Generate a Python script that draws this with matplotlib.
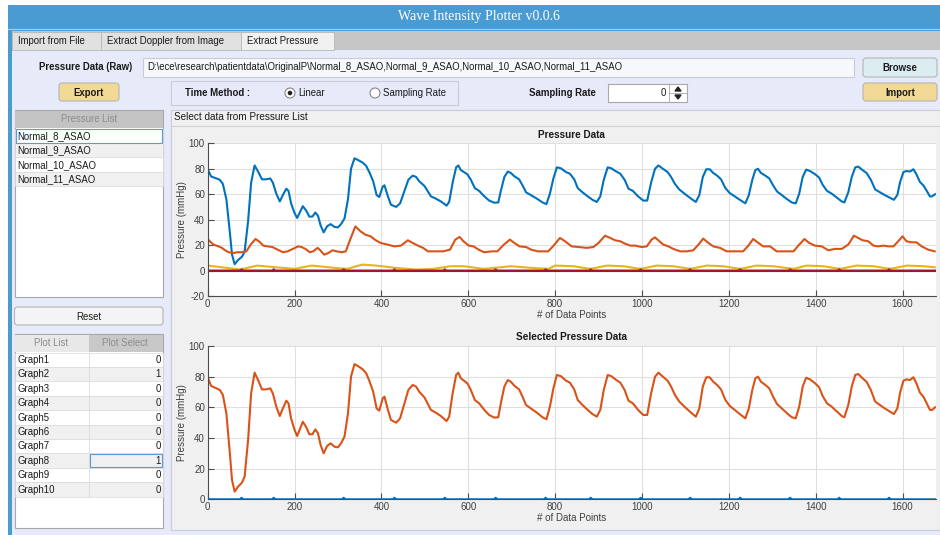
import matplotlib
matplotlib.use('Agg')
import matplotlib.pyplot as plt
from matplotlib.patches import Rectangle, FancyBboxPatch, Circle, Polygon

plt.rcParams['font.family'] = ['Liberation Sans', 'DejaVu Sans']
plt.rcParams['axes.unicode_minus'] = False

# ---- data ----
pressure_files = ['Normal_8_ASAO', 'Normal_9_ASAO', 'Normal_10_ASAO', 'Normal_11_ASAO']
raw_path = 'D:\\ece\\research\\patientdata\\OriginalP\\' + ','.join(pressure_files)
graph_names = ['Graph1', 'Graph2', 'Graph3', 'Graph4', 'Graph5',
               'Graph6', 'Graph7', 'Graph8', 'Graph9', 'Graph10']
plot_select = [0, 1, 0, 0, 0, 0, 0, 1, 0, 0]
x_ticks = [0, 200, 400, 600, 800, 1000, 1200, 1400, 1600]
n_points = 1677

# Normal_8 (big aortic curve)
p8_x = [0, 8, 20, 28, 35, 43, 51, 56, 62, 70, 79, 85, 93, 100, 108, 116, 125, 135, 144, 150,
        158, 166, 173, 181, 186, 192, 200, 206, 214, 219, 227, 234, 241, 248, 254, 260, 267,
        275, 283, 292, 300, 307, 315, 323, 330, 338, 346, 357, 365, 373, 381, 389, 395, 403,
        407, 415, 422, 434, 443, 453, 462, 472, 480, 487, 499, 514, 526, 537, 550, 556, 564,
        572, 577, 583, 591, 598, 606, 615, 625, 637, 648, 660, 669, 675, 683, 691, 698, 706,
        717, 725, 733, 744, 758, 771, 780, 788, 796, 804, 813, 825, 834, 844, 852, 863, 875,
        886, 896, 904, 912, 921, 929, 939, 950, 960, 969, 979, 991, 1003, 1012, 1021, 1030,
        1038, 1048, 1059, 1067, 1076, 1086, 1098, 1113, 1124, 1132, 1140, 1148, 1156, 1164,
        1173, 1182, 1192, 1202, 1211, 1223, 1233, 1238, 1246, 1254, 1261, 1267, 1274, 1284,
        1293, 1302, 1311, 1322, 1334, 1345, 1354, 1362, 1370, 1378, 1387, 1399, 1408, 1416,
        1426, 1437, 1449, 1460, 1466, 1475, 1483, 1491, 1498, 1508, 1517, 1527, 1537, 1548,
        1559, 1571, 1580, 1588, 1594, 1602, 1609, 1617, 1625, 1632, 1640, 1648, 1655, 1663,
        1668, 1675]
p8_y = [79.6, 73.9, 72.4, 71.3, 68, 56, 30, 12.6, 5, 8.3, 10.9, 14.8, 38.7, 69.1, 82.6, 77.8,
        71.7, 71.7, 72.4, 69.1, 60.4, 54.3, 59.3, 64.3, 62.6, 52.8, 45.2, 41.3, 47, 50.6, 47,
        42.4, 42.4, 45.6, 43, 35.4, 30, 34.8, 36.5, 34.3, 33.9, 36.5, 40.9, 56, 80, 88.2, 86.9,
        84.8, 82.2, 76.7, 70.2, 59.3, 57.8, 65.9, 67, 58.3, 51.7, 50, 52.8, 62.6, 71.3, 74.6,
        73.5, 70.2, 66.5, 58.3, 56.4, 54.3, 51, 53.9, 69.1,
        81.1, 82.6, 78.9, 77.2, 75.6, 71.3, 64.8, 62.6, 58.3, 55, 53.3, 53.5, 62.6, 73.5, 77.8,
        76.7, 74.1, 71.7, 66.9, 61.5, 59.3, 56.5, 53.5, 52.2, 60.4, 72.4, 81.1, 80.4, 77.4,
        76.1, 71.7, 64.8, 61.5, 58.3, 55.6, 53.9, 58.3, 71.3, 81.1, 80.4, 78.2, 76.1, 71.3,
        64.3, 62.6, 58.3, 55, 55, 69.1, 80, 82.6, 80, 77.4, 73.5, 68, 63.7, 60.4, 56.5, 53.9,
        59.3, 73.5, 79.6, 79.6, 76.7, 74.6, 71.7, 64.8, 60.9, 58.9, 56.1, 53.9, 52.8, 59.3,
        71.3, 78.9, 80, 76.7, 74.6, 72.4, 66.9, 62.1, 59.3, 56.1, 53.5, 52.8, 60.4, 73.5, 79.3,
        78.2, 75.6, 73, 67.4, 62.6, 60.4, 57.2, 54.3, 53.5, 61.5, 73.5, 81.1, 81.7, 78.9, 76.7,
        71.3, 63.7, 61.5, 59.3, 57.2, 55.6, 59.3, 69.1, 77.4, 78.2, 77.8, 79.6, 75.6, 69.6,
        66.9, 63, 58.3, 58.3, 60]

# Normal_9
p9_x = [0, 5, 13, 25, 33, 40, 48, 60, 68, 79, 89, 99, 110, 118, 128, 138, 149, 161, 173, 184,
        196, 208, 216, 225, 235, 243, 253, 258, 268, 278, 287, 297, 309, 318, 328, 340, 352,
        363, 375, 387, 398, 414, 430, 445, 461, 472, 484, 496, 507, 523, 542, 558, 570, 580,
        589, 601, 612, 624, 636, 655, 667, 682, 696, 706, 718, 733, 745, 760, 784, 795, 811,
        823, 838, 854, 873, 888, 900, 915, 927, 938, 950, 961, 973, 984, 999, 1011, 1022, 1030,
        1040, 1049, 1061, 1072, 1088, 1103, 1118, 1130, 1141, 1153, 1164, 1180, 1195, 1214,
        1233, 1245, 1256, 1268, 1279, 1295, 1310, 1333, 1349, 1360, 1374, 1385, 1398, 1414,
        1429, 1444, 1460, 1475, 1488, 1498, 1508, 1521, 1533, 1544, 1556, 1567, 1579, 1590,
        1600, 1609, 1621, 1632, 1644, 1659, 1674]
p9_y = [24.8, 23, 20.4, 19, 17.8, 15.9, 14.4, 13.8, 14.4, 14.4, 15.1, 20.4, 24.8, 23, 19.6, 19,
        18.5, 16.4, 14.4, 15.1, 17, 19, 18.5, 17, 14.4, 15.1, 17.8, 16.4, 12.5, 13.8, 15.9,
        15.1, 14.4, 15.1, 24.3, 34.7, 30.8, 28.2, 26.9, 23.8, 21.7, 20.4, 19, 19.6, 23.8, 21.7,
        19.6, 17.8, 15.1, 15.1, 15.1, 16.4, 24.3, 26.4, 23, 19.6, 19, 16.4, 14.4, 15.1, 15.1,
        20.4, 24.3, 21.7, 19, 18.5, 16.4, 15.1, 15.1, 19, 25.6, 23, 19, 18.5, 17.8, 18.5, 21.7,
        27.4, 25.6, 23.8, 23, 21.1, 19.6, 19.6, 18.5, 19, 24.3, 26.1, 23, 20.4, 19, 17, 15.1,
        15.1, 15.9, 20.4, 25.1, 21.7, 19, 17.8, 15.1, 15.1, 15.1, 19.6, 24.8, 21.7, 19, 19,
        15.1, 15.1, 15.1, 19.6, 24.8, 21.7, 19.6, 19, 15.9, 17, 17, 20.4, 27.4, 25.6, 23.8, 23,
        19.6, 19, 19.6, 19, 19, 23, 26.9, 23, 22.2, 22.2, 19, 16.4, 15.1]

# Normal_10
p10_x = [0, 44, 75, 114, 146, 200, 239, 293, 321, 356, 387, 433, 480, 519, 558, 589, 636, 698,
         745, 784, 800, 842, 881, 919, 957, 996, 1034, 1072, 1111, 1149, 1187, 1226, 1264,
         1302, 1349, 1379, 1418, 1456, 1494, 1533, 1571, 1610, 1648, 1674]
p10_y = [3.9, 2.1, 0.8, 3.9, 2.9, 1.3, 3.9, 2.1, 1.3, 4.7, 3.9, 2.1, 0.8, 1.3, 3.4, 3.4, 1.3,
         3.4, 2.1, 1.3, 3.9, 3.4, 1.3, 3.9, 3.4, 1.3, 3.9, 3.4, 1.3, 3.9, 3.4, 1.3, 3.9, 3.4,
         1.3, 3.9, 3.4, 1.3, 3.9, 3.4, 1.3, 3.9, 3.4, 2.6]

# Normal_11 (flat trace with small blips)
p11_x = [0, 74, 78, 82, 148, 152, 156, 309, 313, 317, 426, 430, 434, 542, 546, 550, 659, 663,
         667, 774, 778, 782, 878, 882, 886, 993, 997, 1001, 1107, 1111, 1115, 1222, 1226, 1230,
         1337, 1341, 1345, 1450, 1454, 1458, 1565, 1569, 1573, 1677]
p11_y = [0, 0, 1, 0, 0, 1, 0, 0, 1, 0, 0, 1, 0, 0, 1, 0, 0, 1, 0, 0, 1, 0, 0, 1, 0, 0, 1, 0,
         0, 1, 0, 0, 1, 0, 0, 1, 0, 0, 1, 0, 0, 1, 0, 0]

zero_x = [0, 1677]
zero_y = [0, 0]

# MATLAB default line colours
c_blue = '#0072BD'
c_orange = '#D95319'
c_yellow = '#EDB120'
c_purple = '#7E2F8E'
c_maroon = '#A2142F'

W, H = 940, 535
fig = plt.figure(figsize=(W / 100, H / 100), dpi=100)
fig.patch.set_facecolor('white')

# full-figure axes in pixel coordinates for the GUI chrome
ui = fig.add_axes([0, 0, 1, 1])
ui.set_xlim(0, W)
ui.set_ylim(H, 0)
ui.axis('off')
ui.set_zorder(0)

fs = 6.9


def rect(x0, y0, x1, y1, face, edge='none', lw=0.8, z=1):
    ui.add_patch(Rectangle((x0, y0), x1 - x0, y1 - y0, facecolor=face, edgecolor=edge,
                           linewidth=lw, zorder=z))


def button(x0, y0, x1, y1, face, label, bold=True):
    ui.add_patch(FancyBboxPatch((x0, y0), x1 - x0, y1 - y0,
                                boxstyle='round,pad=0,rounding_size=3',
                                facecolor=face, edgecolor='#b5b5b5', linewidth=0.8, zorder=2))
    ui.text((x0 + x1) / 2, (y0 + y1) / 2 + 0.5, label, ha='center', va='center', fontsize=fs,
            fontweight='bold' if bold else 'normal', color='#1a1a1a', zorder=3)


# title bar and frame
rect(8, 5, W, 31, '#4a9bd1')
ui.plot([8, W], [28.5, 28.5], color='#a9d0ec', lw=0.8, zorder=2)
rect(8, 28, 12, H, '#4a9bd1')
ui.text(479, 16.5, 'Wave Intensity Plotter v0.0.6', ha='center', va='center',
        fontsize=10, color='white', family='Liberation Serif', zorder=3)

# tab strip
rect(12, 31, W, 50, '#c6c6c6')
tabs = ['Import from File', 'Extract Doppler from Image', 'Extract Pressure']
tab_edges = [12, 101, 241, 334]
for i, t in enumerate(tabs):
    face = '#f0f0f0' if i == 2 else '#e1e1e1'
    rect(tab_edges[i], 32, tab_edges[i + 1], 50, face, edge='#b8b8b8', lw=0.6, z=2)
    ui.text(tab_edges[i] + 6, 41.5, t, ha='left', va='center',
            fontsize=fs, color='#1a1a1a', zorder=3)

# main panel
rect(12, 50, W, H, '#e6eaf9')

# path row
ui.text(132, 67.5, 'Pressure Data (Raw)', ha='right', va='center', fontsize=fs,
        fontweight='bold', color='#1a1a1a', zorder=3)
rect(143, 58, 854, 77, '#f7f8fc', edge='#c8ccd8', lw=0.8, z=2)
ui.text(147, 67.5, raw_path, ha='left', va='center', fontsize=fs, color='#1a1a1a', zorder=3)
button(863, 58, 937, 77, '#dcedf1', 'Browse')

# second row
button(59, 83, 119, 101, '#f2d995', 'Export')
rect(171, 81, 458, 105, '#e6eaf9', edge='#c8ccd8', lw=0.8, z=2)
ui.text(185, 93, 'Time Method :', ha='left', va='center', fontsize=fs, fontweight='bold',
        color='#1a1a1a', zorder=3)
ui.add_patch(Circle((290, 93), 5, facecolor='white', edgecolor='#7a7a7a', lw=0.7, zorder=3))
ui.add_patch(Circle((290, 93), 2.3, facecolor='#222222', edgecolor='none', zorder=4))
ui.text(298, 93, 'Linear', ha='left', va='center', fontsize=fs, color='#1a1a1a', zorder=3)
ui.add_patch(Circle((375, 93), 5, facecolor='white', edgecolor='#7a7a7a', lw=0.7, zorder=3))
ui.text(383, 93, 'Sampling Rate', ha='left', va='center', fontsize=fs, color='#1a1a1a', zorder=3)
ui.text(596, 93, 'Sampling Rate', ha='right', va='center', fontsize=fs, fontweight='bold',
        color='#1a1a1a', zorder=3)
rect(608, 84, 687, 102, 'white', edge='#a8a8a8', lw=0.8, z=2)
ui.text(666, 93, '0', ha='right', va='center', fontsize=fs, color='#1a1a1a', zorder=3)
ui.plot([669, 669], [84, 102], color='#a8a8a8', lw=0.6, zorder=3)
ui.plot([669, 687], [93, 93], color='#a8a8a8', lw=0.6, zorder=3)
ui.add_patch(Polygon([[675, 91], [681, 91], [678, 87]], closed=True, color='#222222', zorder=4))
ui.add_patch(Polygon([[675, 95], [681, 95], [678, 99]], closed=True, color='#222222', zorder=4))
button(863, 83, 937, 101, '#f2d995', 'Import')

# pressure list table
rect(14.5, 110, 163, 297, 'white', edge='#a8a8a8', lw=0.8, z=2)
rect(15, 110.5, 162.5, 127.5, '#c3c3c3', z=3)
ui.text(89, 119.5, 'Pressure List', ha='center', va='center', fontsize=fs, color='#8c8c8c',
        zorder=4)
row_h = 14.4
for i, name in enumerate(pressure_files):
    y0 = 128.5 + i * row_h
    face = '#f0f0f0' if i % 2 == 1 else 'white'
    rect(15, y0, 162.5, y0 + row_h, face, edge='#dadada', lw=0.5, z=3)
    ui.text(17, y0 + row_h / 2 + 0.3, name, ha='left', va='center', fontsize=fs,
            color='#1a1a1a', zorder=4)
rect(15.5, 129, 162, 142.6, 'none', edge='#5b9bd5', lw=0.8, z=5)

button(14.5, 307, 163, 325, '#f4f4f6', 'Reset', bold=False)

# plot list table
rect(14.5, 334, 163, 528, 'white', edge='#a8a8a8', lw=0.8, z=2)
rect(15, 334.5, 88.5, 352, '#e8e8e8', z=3)
rect(88.5, 334.5, 162.5, 352, '#c8c8c8', z=3)
ui.text(51, 343.5, 'Plot List', ha='center', va='center', fontsize=fs, color='#8c8c8c', zorder=4)
ui.text(125, 343.5, 'Plot Select', ha='center', va='center', fontsize=fs, color='#8c8c8c',
        zorder=4)
for i, name in enumerate(graph_names):
    y0 = 352.5 + i * row_h
    face = '#f0f0f0' if i % 2 == 1 else 'white'
    rect(15, y0, 88.5, y0 + row_h, face, edge='#dadada', lw=0.5, z=3)
    rect(88.5, y0, 162.5, y0 + row_h, face, edge='#dadada', lw=0.5, z=3)
    ui.text(17, y0 + row_h / 2 + 0.3, name, ha='left', va='center', fontsize=fs,
            color='#1a1a1a', zorder=4)
    ui.text(160.5, y0 + row_h / 2 + 0.3, str(plot_select[i]), ha='right', va='center',
            fontsize=fs, color='#1a1a1a', zorder=4)
sel = 7
rect(89.5, 352.5 + sel * row_h + 0.5, 162, 352.5 + (sel + 1) * row_h - 0.5, 'none',
     edge='#5b9bd5', lw=0.8, z=5)

# plot panel
rect(171, 110, W, 530, '#f0f0f0', edge='#c8ccd8', lw=0.8, z=2)
ui.plot([171, W], [125.5, 125.5], color='#d0d0d0', lw=0.8, zorder=3)
ui.text(174, 117.5, 'Select data from Pressure List', ha='left', va='center', fontsize=7.2,
        color='#1a1a1a', zorder=4)


def style_axes(ax, ylim, yticks, title):
    ax.set_facecolor('white')
    ax.set_xlim(0, n_points)
    ax.set_ylim(*ylim)
    ax.set_xticks(x_ticks)
    ax.set_yticks(yticks)
    ax.grid(True, color='#dfdfdf', lw=0.8)
    ax.set_axisbelow(True)
    for s in ['top', 'right']:
        ax.spines[s].set_visible(False)
    for s in ['left', 'bottom']:
        ax.spines[s].set_color('#4d4d4d')
        ax.spines[s].set_linewidth(0.8)
    ax.tick_params(direction='in', length=4, width=0.8, color='#4d4d4d', labelsize=7,
                   labelcolor='#404040', pad=2)
    ax.set_xlabel('# of Data Points', fontsize=7, color='#404040', labelpad=1)
    ax.set_ylabel('Pressure (mmHg)', fontsize=7, color='#404040', labelpad=1)
    ax.set_title(title, fontsize=7.2, fontweight='bold', color='#1a1a1a', pad=4)


ax1 = fig.add_axes([207.7 / W, (H - 296) / H, (936 - 207.7) / W, (296 - 143.3) / H])
ax1.set_zorder(5)
ax1.plot(p8_x, p8_y, color=c_blue, lw=1.5)
ax1.plot(p9_x, p9_y, color=c_orange, lw=1.5)
ax1.plot(p10_x, p10_y, color=c_yellow, lw=1.5)
ax1.plot(p11_x, p11_y, color=c_purple, lw=1.5)
ax1.plot(zero_x, zero_y, color=c_maroon, lw=1.5)
style_axes(ax1, (-20, 100), [-20, 0, 20, 40, 60, 80, 100], 'Pressure Data')

ax2 = fig.add_axes([207.7 / W, (H - 499.3) / H, (936 - 207.7) / W, (499.3 - 346) / H])
ax2.set_zorder(5)
ax2.plot(p11_x, p11_y, color=c_blue, lw=1.5)
ax2.plot(p8_x, p8_y, color=c_orange, lw=1.5)
style_axes(ax2, (0, 100), [0, 20, 40, 60, 80, 100], 'Selected Pressure Data')

fig.savefig('out.png', dpi=100)
